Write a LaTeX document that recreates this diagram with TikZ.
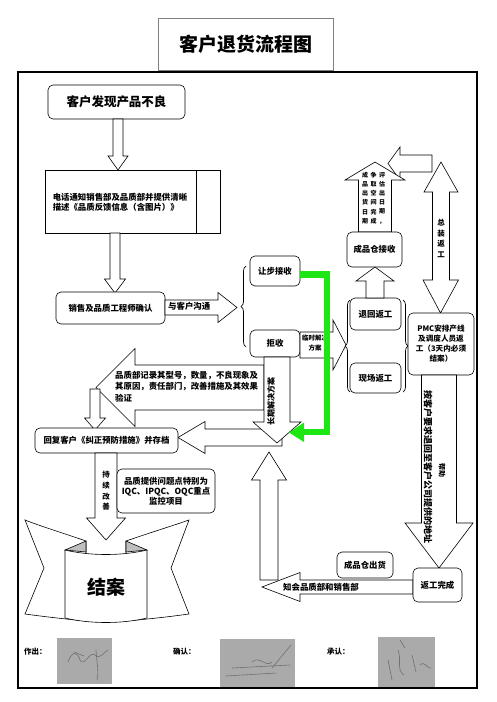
\documentclass[tikz,border=0pt]{standalone}
\usepackage{fontspec}
\setmainfont{Noto Sans CJK SC}
\usetikzlibrary{decorations.pathreplacing}
\XeTeXlinebreaklocale "zh"
\definecolor{grn}{RGB}{30,230,20}
\definecolor{sigc}{RGB}{170,170,170}
\definecolor{scrc}{RGB}{112,112,112}
\definecolor{tboxc}{RGB}{128,128,128}
\definecolor{foldc}{RGB}{190,190,190}
\newcommand\myfs[2]{\fontsize{#1}{#2}\selectfont}
% vertical block arrow: x, y tail, y head base, y tip, shaft half, head half
\newcommand\blkv[6]{\draw[blk] ({#1-#5},#2) -- ({#1-#5},#3) -- ({#1-#6},#3) -- (#1,#4) -- ({#1+#6},#3) -- ({#1+#5},#3) -- ({#1+#5},#2) -- cycle;}
% horizontal block arrow: y, x tail, x head base, x tip, shaft half, head half
\newcommand\blkh[6]{\draw[blk] (#2,{#1-#5}) -- (#3,{#1-#5}) -- (#3,{#1-#6}) -- (#4,#1) -- (#3,{#1+#6}) -- (#3,{#1+#5}) -- (#2,{#1+#5}) -- cycle;}
\tikzset{
  blk/.style={draw=black, fill=white, line width=0.6pt, line join=miter},
  rbox/.style={draw=black, fill=white, line width=0.6pt, rounded corners=5pt, inner sep=0pt, align=center, font=\bfseries\myfs{8.4}{10}},
  lbl/.style={inner sep=0pt, align=center, font=\bfseries\myfs{8.4}{10}},
  brc/.style={line width=0.7pt, decorate, decoration={brace, amplitude=5pt}},
  scr/.style={draw=scrc, line width=0.6pt, line cap=round},
}
\begin{document}
\begin{tikzpicture}[x=1pt, y=-1pt]
\useasboundingbox (0,0) rectangle (496,702);
\fill[white] (0,0) rectangle (496,702);
% frame and title
\draw[line width=2pt] (18,72) rectangle (477,688);
\node[draw=tboxc, line width=0.8pt, minimum width=175pt, minimum height=52pt, inner sep=0pt, font=\bfseries\myfs{19}{22}] (title) at (245.5,44) {客户退货流程图};

% start
\node[rbox, minimum width=137pt, minimum height=34pt, font=\bfseries\myfs{12.5}{14}] (n1) at (116.5,102) {客户发现产品不良};
\blkv{118}{119}{156}{170}{5}{10}
\node[draw, fill=white, line width=0.6pt, minimum width=175pt, minimum height=63pt, inner sep=0pt] (n2) at (132.5,201.5) {};
\draw[line width=0.6pt] (196,170) -- (196,233);
\node[lbl, align=left] (t2) at (120,202) {电话通知销售部及品质部并提供清晰\\描述《品质反馈信息（含图片）》};
\blkv{115}{233}{279}{293}{5}{10.5}
\node[rbox, minimum width=109pt, minimum height=32pt] (n3) at (110.5,308) {销售及品质工程师确认};
\blkh{307.5}{165}{218}{237}{7.5}{15}
\node[lbl, anchor=west] (t3) at (168,306.5) {与客户沟通};

% decision
\draw[brc] (246,347) -- (246,266);
\node[rbox, minimum width=50pt, minimum height=30pt] (n4) at (275,271) {让步接收};
\node[rbox, minimum width=50pt, minimum height=27pt] (n5) at (275,343.5) {拒收};
\blkh{345}{300}{333}{346}{13}{25}
\node[lbl, font=\bfseries\myfs{6.5}{10}] (t5) at (315,343) {临时解决\\方案};

% rework options
\draw[brc] (350,392) -- (350,300);
\node[rbox, minimum width=51pt, minimum height=32pt] (n6) at (375.5,314) {退回返工};
\node[rbox, minimum width=51pt, minimum height=30pt] (n7) at (375.5,378) {现场返工};
\draw[brc] (403,300) -- (403,392);

% top right arrows
\blkh{163.5}{432}{400}{388}{8.5}{16.5}
\draw[blk] (441,162) -- (458,192) -- (449.5,192) -- (449.5,280) -- (458.5,280) -- (440.5,313) -- (423,280) -- (432.5,280) -- (432.5,192) -- (424,192) -- cycle;
\node[lbl, font=\bfseries\myfs{7.5}{10.5}] (t8) at (441,238.5) {总\\装\\返\\工};

\blkv{375}{232}{180}{162}{16.5}{30}
\node[lbl, font=\bfseries\myfs{6}{9.2}] (c1) at (365,198) {成\\品\\出\\货\\日\\期};
\node[lbl, font=\bfseries\myfs{6}{9.2}] (c2) at (373.5,198) {争\\取\\空\\间\\完\\成};
\node[lbl, font=\bfseries\myfs{6}{9.2}] (c3) at (382,198) {评\\估\\出\\日\\期\\，};
\node[rbox, minimum width=55pt, minimum height=35pt] (n9) at (374.5,249.5) {成品仓接收};
\blkv{375}{298}{281}{267}{9}{19}

\node[rbox, minimum width=66pt, minimum height=62pt, font=\bfseries\myfs{7.6}{10}] (n8) at (441,344) {PMC安排产线\\及调度人员返\\工（3天内必须\\结案）};
\blkv{439}{375}{523}{568}{17.5}{34}
\node[lbl, rotate=-90, font=\bfseries\myfs{9}{10}] (t9) at (428,467) {按客户要求退回至客户公司提供的地址};
\node[lbl, rotate=-90, font=\bfseries\myfs{7}{8}] (t10) at (442,470) {帮助};

% quality record arrow
\blkh{387.5}{264}{135}{96}{22.5}{39}
\node[lbl, anchor=west, align=left, font=\bfseries\myfs{8.4}{11.5}] (t11) at (115,386.5) {品质部记录其型号，数量，不良现象及\\其原因，责任部门，改善措施及其效果\\验证};
\blkv{95}{389}{418}{430}{5}{10.5}

\blkh{437.5}{282}{205}{178}{8.5}{16}
\node[rbox, minimum width=143pt, minimum height=25pt] (n11) at (106.5,440.5) {回复客户《纠正预防措施》并存档};

\blkv{277}{357}{422}{443}{13}{24}
\node[lbl, rotate=90, font=\bfseries\myfs{8}{9}] (t12) at (271,401) {长期解决方案};

% green path
\draw[grn, line width=6.5pt, line join=miter] (n4.east |- 0,274.5) -- (327,274.5) -- (327,432) -- (302,432);
\fill[grn] (304,422.5) -- (289,432.5) -- (304,442) -- cycle;

% continuous improvement
\blkv{106}{453}{518}{540}{11}{19.5}
\node[lbl, font=\bfseries\myfs{7.5}{10.7}] (t13) at (106,491) {持\\续\\改\\善};
\node[rbox, minimum width=98pt, minimum height=44pt, font=\bfseries\myfs{8.4}{10}] (n12) at (166,491) {品质提供问题点特别为\\IQC、IPQC、OQC重点\\监控项目};

% banner
\draw[blk] (86,541) .. controls (60,532) and (40,526) .. (25,520) -- (44,568) -- (25,614) .. controls (40,616) and (55,618) .. (86,621) -- cycle;
\draw[blk] (126,541) .. controls (152,532) and (172,526) .. (189,520) -- (171,568) -- (189,614) .. controls (174,616) and (160,618) .. (126,621) -- cycle;
\draw[blk, fill=foldc] (65,550) -- (86,541) -- (86,552) -- cycle;
\draw[blk, fill=foldc] (147,550) -- (126,541) -- (126,552) -- cycle;
\draw[blk] (65,550) .. controls (90,556) and (122,556) .. (147,550) -- (147,618) .. controls (122,624) and (90,624) .. (65,618) -- cycle;
\node[lbl, font=\bfseries\myfs{19}{22}] (n13) at (106,587) {结案};

% bottom right loop
\blkh{587}{413}{300}{262}{7}{14.5}
\blkv{269}{580}{480}{452}{9}{17.5}
\node[lbl, anchor=west] (t14) at (283,587.5) {知会品质部和销售部};
\node[rbox, minimum width=49pt, minimum height=34pt] (n14) at (437.5,585) {返工完成};
\node[rbox, minimum width=56pt, minimum height=26pt] (n15) at (365,565) {成品仓出货};

% signature row
\node[lbl, anchor=west, font=\bfseries\myfs{7.5}{9}] (s1) at (24,652) {作出：};
\node[lbl, anchor=west, font=\bfseries\myfs{7.5}{9}] (s2) at (173,652) {确认：};
\node[lbl, anchor=west, font=\bfseries\myfs{7.5}{9}] (s3) at (327,652) {承认：};
\fill[sigc] (57,638) rectangle (112,684);
\fill[sigc] (220,639) rectangle (295,687);
\fill[sigc] (378,637) rectangle (435,687);
\draw[scr] (68,662) .. controls (72,650) and (78,652) .. (80,660) .. controls (84,668) and (90,650) .. (95,655) .. controls (100,660) and (104,652) .. (108,650);
\draw[scr] (96,650) .. controls (97,665) and (99,672) .. (97,680);
\draw[scr] (74,652) -- (84,656);
\draw[scr] (232,668) -- (290,665);
\draw[scr] (226,676) -- (276,673);
\draw[scr] (252,662) .. controls (260,655) and (266,668) .. (272,662);
\draw[scr] (272,668) -- (291,645);
\draw[scr] (388,660) -- (392,680);
\draw[scr] (398,650) .. controls (402,660) and (396,670) .. (404,675);
\draw[scr] (412,655) -- (416,672);
\draw[scr] (420,665) .. controls (425,660) and (428,670) .. (431,668);
\draw[scr] (400,640) -- (405,648);
\end{tikzpicture}
\end{document}
